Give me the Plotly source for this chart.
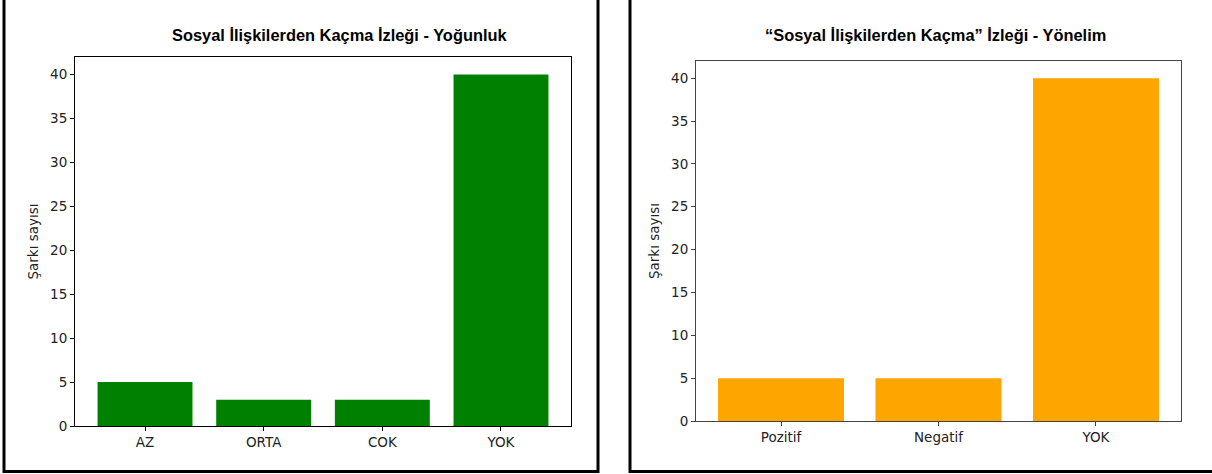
import plotly.graph_objects as go

# Left chart: intensity
yogunluk_labels = ["AZ", "ORTA", "COK", "YOK"]
yogunluk_values = [5, 3, 3, 40]

# Right chart: orientation
yonelim_labels = ["Pozitif", "Negatif", "YOK"]
yonelim_values = [5, 5, 40]

y_ticks = [0, 5, 10, 15, 20, 25, 30, 35, 40]

# target picture size; the page is a bit taller because the capture
# gets squeezed vertically to 474
W, H = 1212, 474
PAGE_H = 482


def px_x(v):
    return v / W


def px_y(v):
    return 1 - v / H


tick_font = dict(family="DejaVu Sans", size=13.5, color="#222")
label_font = dict(family="DejaVu Sans", size=13.5, color="#222")
title_font = dict(family="Liberation Sans, Arial", size=16.4, color="black")

fig = go.Figure()

fig.add_trace(go.Bar(
    x=list(range(len(yogunluk_labels))),
    y=yogunluk_values,
    width=0.8,
    marker=dict(color="#008000", line=dict(width=0)),
    xaxis="x", yaxis="y",
    showlegend=False
))

fig.add_trace(go.Bar(
    x=list(range(len(yonelim_labels))),
    y=yonelim_values,
    width=0.8,
    marker=dict(color="#FFA500", line=dict(width=0)),
    xaxis="x2", yaxis="y2",
    showlegend=False
))

axis_common = dict(
    showgrid=False, zeroline=False, showline=True, mirror=True,
    ticks="outside", ticklen=4, tickfont=tick_font
)

fig.update_layout(
    width=W, height=PAGE_H, autosize=False,
    margin=dict(l=0, r=0, t=0, b=0),
    paper_bgcolor="white", plot_bgcolor="white",
    xaxis=dict(
        domain=[px_x(75), px_x(571)],
        range=[-0.59, 3.59],
        tickmode="array",
        tickvals=list(range(len(yogunluk_labels))),
        ticktext=yogunluk_labels,
        linecolor="black", tickcolor="black",
        **axis_common
    ),
    yaxis=dict(
        domain=[px_y(426), px_y(57)],
        range=[0, 42],
        tickmode="array", tickvals=y_ticks,
        title=dict(text="Şarkı sayısı", font=label_font, standoff=8),
        linecolor="black", tickcolor="black",
        anchor="x",
        **axis_common
    ),
    xaxis2=dict(
        domain=[px_x(696), px_x(1181)],
        range=[-0.54, 2.54],
        tickmode="array",
        tickvals=list(range(len(yonelim_labels))),
        ticktext=yonelim_labels,
        linecolor="#444", tickcolor="#444",
        anchor="y2",
        **axis_common
    ),
    yaxis2=dict(
        domain=[px_y(421), px_y(61)],
        range=[0, 42],
        tickmode="array", tickvals=y_ticks,
        title=dict(text="Şarkı sayısı", font=label_font, standoff=8),
        linecolor="#444", tickcolor="#444",
        anchor="x2",
        **axis_common
    ),
    annotations=[
        dict(text="<b>Sosyal İlişkilerden Kaçma İzleği - Yoğunluk</b>",
             x=px_x(339), y=px_y(35), xref="paper", yref="paper",
             xanchor="center", yanchor="middle", showarrow=False,
             font=title_font),
        dict(text="<b>“Sosyal İlişkilerden Kaçma” İzleği - Yönelim</b>",
             x=px_x(935), y=px_y(35), xref="paper", yref="paper",
             xanchor="center", yanchor="middle", showarrow=False,
             font=title_font),
    ],
    shapes=[
        dict(type="rect", xref="paper", yref="paper",
             x0=px_x(4), x1=px_x(598), y0=px_y(471.5), y1=1.05,
             line=dict(color="black", width=3)),
        dict(type="rect", xref="paper", yref="paper",
             x0=px_x(630), x1=1.05, y0=px_y(471.5), y1=1.05,
             line=dict(color="black", width=3)),
    ],
)

fig.write_html(
    "out.html",
    config={"displayModeBar": False, "responsive": False},
    post_script="document.body.style.margin='0';"
)
